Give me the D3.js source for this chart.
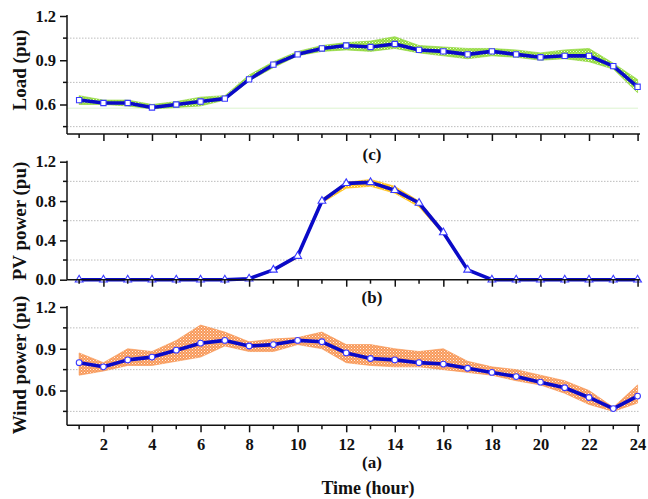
<!DOCTYPE html>
<html><head><meta charset="utf-8">
<script src="https://cdn.jsdelivr.net/npm/d3@7"></script>
<style>body{margin:0;background:#fff;} svg{display:block;} text{font-family:"Liberation Serif","Times New Roman",serif;font-weight:bold;fill:#111;}</style>
</head><body>
<svg id="c" width="648" height="499"></svg>
<script>
const hours = d3.range(1, 25);
const xTickLabels = [2,4,6,8,10,12,14,16,18,20,22,24];

const loadMean  = [0.63,0.61,0.61,0.58,0.60,0.62,0.64,0.77,0.87,0.94,0.98,1.00,0.99,1.01,0.97,0.96,0.94,0.96,0.94,0.92,0.93,0.93,0.86,0.72];
const loadUpper = [0.66,0.63,0.63,0.60,0.62,0.65,0.66,0.80,0.89,0.96,1.00,1.02,1.03,1.06,1.00,0.99,0.98,0.98,0.97,0.95,0.97,0.98,0.88,0.77];
const loadLower = [0.60,0.60,0.59,0.57,0.58,0.59,0.63,0.76,0.85,0.93,0.96,0.97,0.96,0.98,0.95,0.93,0.91,0.93,0.92,0.90,0.91,0.89,0.84,0.68];

const pvMean  = [0,0,0,0,0,0,0,0.01,0.10,0.24,0.80,0.98,0.99,0.91,0.78,0.48,0.10,0,0,0,0,0,0,0];
const pvUpper = [0,0,0,0,0,0,0,0.02,0.11,0.25,0.82,0.99,1.02,0.95,0.80,0.50,0.11,0,0,0,0,0,0,0];
const pvLower = [0,0,0,0,0,0,0,0,0.09,0.22,0.78,0.93,0.95,0.88,0.74,0.46,0.09,0,0,0,0,0,0,0];

const windMean  = [0.80,0.77,0.82,0.84,0.89,0.94,0.96,0.92,0.93,0.96,0.95,0.87,0.83,0.82,0.80,0.79,0.76,0.73,0.70,0.66,0.62,0.55,0.47,0.56];
const windUpper = [0.87,0.80,0.90,0.88,0.96,1.07,1.02,0.95,0.97,0.98,1.02,0.93,0.93,0.90,0.88,0.90,0.81,0.77,0.75,0.71,0.67,0.60,0.48,0.64];
const windLower = [0.71,0.74,0.78,0.78,0.81,0.84,0.92,0.88,0.88,0.93,0.90,0.80,0.78,0.77,0.77,0.75,0.73,0.71,0.67,0.64,0.58,0.50,0.45,0.51];

const loadTicks = [0.6,0.9,1.2], loadGrid = [0.45,0.75,1.05];
const pvTicks = [0.0,0.4,0.8,1.2], pvGrid = [0.2,0.6,1.0];
const windTicks = [0.6,0.9,1.2], windGrid = [0.45,0.75,1.05];

const svg = d3.select("#c");
const defs = svg.append("defs");
function pat(id, col){
  const p = defs.append("pattern").attr("id",id).attr("width",3).attr("height",3).attr("patternUnits","userSpaceOnUse");
  p.append("rect").attr("width",3).attr("height",3).attr("fill",col);
  p.append("rect").attr("width",1).attr("height",1).attr("fill","#fff").attr("opacity",0.85);
  p.append("rect").attr("x",1.5).attr("y",1.5).attr("width",1).attr("height",1).attr("fill","#fff").attr("opacity",0.6);
}
pat("pg","#93dc3c"); pat("po","#f8995a"); pat("py","#ffc21a");

const x = d3.scaleLinear().domain([0.5, 24.1]).range([67, 640]);
const blue = "#0a0ac8";

function panel(cfg){
  const y = d3.scaleLinear().domain(cfg.dom).range([cfg.bot, cfg.top]);
  const g = svg.append("g");
  g.selectAll(".gr").data(cfg.grid).join("line")
    .attr("x1",67).attr("x2",640).attr("y1",d=>y(d)).attr("y2",d=>y(d))
    .attr("stroke","#b5b5b5").attr("stroke-width",0.9).attr("stroke-dasharray","1.5,1.5");
  if (cfg.faint!==undefined){
    g.append("line").attr("x1",67).attr("x2",638).attr("y1",y(cfg.faint)).attr("y2",y(cfg.faint))
      .attr("stroke","#dcf3cf").attr("stroke-width",1);
  }
  const area = d3.area().x((d,i)=>x(hours[i])).y0((d,i)=>y(cfg.lower[i])).y1((d,i)=>y(cfg.upper[i]));
  g.append("path").datum(cfg.mean).attr("d",area).attr("fill","url(#"+cfg.pat+")").attr("stroke",cfg.edge).attr("stroke-width",0.6);
  const line = d3.line().x((d,i)=>x(hours[i])).y(d=>y(d));
  g.append("path").datum(cfg.mean).attr("d",line).attr("fill","none").attr("stroke",blue).attr("stroke-width",3.6).attr("stroke-linejoin","round");
  const sym = d3.symbol().type(cfg.sym).size(cfg.symSize);
  g.selectAll(".m").data(cfg.mean).join("path")
    .attr("transform",(d,i)=>`translate(${x(hours[i])},${y(d)})`)
    .attr("d",sym).attr("fill","#fff").attr("stroke","#3a3aff").attr("stroke-width",1.1);
  const ya = d3.axisLeft(y).tickValues(cfg.ticks).tickSize(7).tickPadding(4).tickFormat(d3.format(".1f"));
  const yg = g.append("g").attr("transform","translate(67,0)").call(ya);
  yg.select(".domain").attr("d",`M0,${cfg.bot}V${cfg.top-1}`).attr("stroke","#111").attr("stroke-width",1.5);
  yg.selectAll(".tick line").attr("stroke","#111").attr("stroke-width",1.5);
  yg.selectAll("text").attr("font-size",16.5).attr("font-family","Liberation Serif").attr("font-weight","bold").attr("fill","#111");
  g.selectAll(".ym").data(cfg.grid).join("line").attr("x1",63).attr("x2",67).attr("y1",d=>y(d)).attr("y2",d=>y(d)).attr("stroke","#111").attr("stroke-width",1.5);
  const xa = d3.axisBottom(x).tickValues(xTickLabels).tickSize(7).tickPadding(6).tickFormat(cfg.xlabels? d3.format("d") : "");
  const xg = g.append("g").attr("transform",`translate(0,${cfg.bot})`).call(xa);
  xg.select(".domain").attr("d","M67,0H640").attr("stroke","#111").attr("stroke-width",1.5);
  xg.selectAll(".tick line").attr("stroke","#111").attr("stroke-width",1.5);
  xg.selectAll("text").attr("font-size",16.5).attr("font-family","Liberation Serif").attr("font-weight","bold").attr("fill","#111");
  g.selectAll(".xm").data(hours.filter(h=>h%2===1)).join("line")
    .attr("x1",d=>x(d)).attr("x2",d=>x(d)).attr("y1",cfg.bot).attr("y2",cfg.bot+4).attr("stroke","#111").attr("stroke-width",1.5);
  g.append("text").attr("transform",`translate(26,${cfg.titleY}) rotate(-90)`).attr("text-anchor","middle")
    .attr("font-size",19).text(cfg.title);
  g.append("text").attr("x",372).attr("y",cfg.capY).attr("text-anchor","middle").attr("font-size",17).text(cfg.cap);
}

panel({dom:[0.4,1.2], top:16, bot:134, mean:loadMean, upper:loadUpper, lower:loadLower, pat:"pg", edge:"#86d22e",
  sym:d3.symbolSquare, symSize:28, ticks:loadTicks, grid:loadGrid, title:"Load (pu)", titleY:70, cap:"(c)", capY:160, faint:0.575});
panel({dom:[0,1.2], top:161.7, bot:279.7, mean:pvMean, upper:pvUpper, lower:pvLower, pat:"py", edge:"#ffbb00",
  sym:d3.symbolTriangle, symSize:26, ticks:pvTicks, grid:pvGrid, title:"PV power (pu)", titleY:221, cap:"(b)", capY:303});
panel({dom:[0.35,1.2], top:307, bot:425.3, mean:windMean, upper:windUpper, lower:windLower, pat:"po", edge:"#f7904a",
  sym:d3.symbolCircle, symSize:26, ticks:windTicks, grid:windGrid, title:"Wind power (pu)", titleY:365, cap:"(a)", capY:468, xlabels:true});

svg.append("text").attr("x",368).attr("y",494).attr("text-anchor","middle").attr("font-size",18).text("Time (hour)");
</script>
</body></html>
